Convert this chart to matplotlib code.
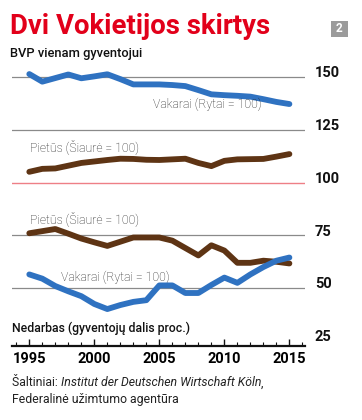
import matplotlib
matplotlib.use("Agg")
import matplotlib.pyplot as plt
from matplotlib.patches import Rectangle
from matplotlib.ticker import MultipleLocator, FixedLocator
import matplotlib.transforms as mtransforms

years = list(range(1995, 2016))
gdp_west = [151.4, 147.8, 149.5, 151.2, 149.4, 150.3, 151.3, 149.0, 146.5, 146.5, 146.5,
            146.2, 145.7, 143.8, 141.8, 141.4, 141.1, 140.7, 139.5, 138.2, 137.2]
gdp_south = [105.1, 106.5, 106.7, 108.0, 109.3, 110.0, 110.7, 111.3, 111.2, 110.8, 110.7,
             111.0, 111.3, 109.3, 107.8, 110.3, 111.0, 111.1, 111.2, 112.3, 113.5]
unemp_south = [76.0, 77.0, 78.0, 75.8, 73.5, 71.7, 70.0, 72.0, 74.0, 74.0, 74.0,
               72.5, 69.0, 65.5, 70.3, 67.8, 62.0, 62.0, 63.0, 62.5, 61.7]
unemp_west = [56.5, 54.5, 51.0, 48.5, 46.2, 42.5, 40.1, 42.0, 43.5, 44.3, 51.3,
              51.3, 47.7, 47.7, 51.5, 55.0, 52.5, 56.5, 60.0, 63.0, 64.5]
grid_levels = [150, 125, 75, 50]
red_level = 100
right_labels = ["150", "125", "100", "75", "50", "25"]
right_values = [150, 125, 100, 75, 50, 25]
major_years = [1995, 2000, 2005, 2010, 2015]

BLUE = "#2f72c1"
BROWN = "#5e3414"
RED = "#e2001a"

W, H = 362, 420
fig = plt.figure(figsize=(W / 100, H / 100), dpi=100)
ax = fig.add_axes([12 / W, 1 - 346 / H, 293 / W, (346 - 55.9) / H])
ax.set_xlim(1993.67, 2016.2)
ax.set_ylim(22.6, 160)

for g in grid_levels:
    ax.axhline(g, color="#8a8a8a", lw=0.9, zorder=1)
ax.axhline(red_level, color="#ee7f86", lw=1.0, zorder=1)

lw = 4.2
ax.plot(years, gdp_west, color=BLUE, lw=lw, solid_capstyle="round", solid_joinstyle="round", zorder=3)
ax.plot(years, gdp_south, color=BROWN, lw=lw, solid_capstyle="round", solid_joinstyle="round", zorder=3)
ax.plot(years, unemp_south, color=BROWN, lw=lw, solid_capstyle="round", solid_joinstyle="round", zorder=3)
ax.plot(years, unemp_west, color=BLUE, lw=lw, solid_capstyle="round", solid_joinstyle="round", zorder=4)

for s in ["top", "right", "left"]:
    ax.spines[s].set_visible(False)
ax.spines["bottom"].set_linewidth(1.6)
ax.spines["bottom"].set_color("#111111")
ax.set_yticks([])
ax.xaxis.set_major_locator(FixedLocator(major_years))
ax.xaxis.set_minor_locator(MultipleLocator(1))
ax.tick_params(axis="x", which="major", direction="in", length=5, width=1.0, color="#111111",
               labelsize=10.5, pad=4)
ax.tick_params(axis="x", which="minor", direction="in", length=3, width=0.8, color="#111111")
for lab in ax.get_xticklabels():
    lab.set_fontweight("bold")
    lab.set_family("Roboto")

trans = mtransforms.blended_transform_factory(ax.transAxes, ax.transData)
for lab, v in zip(right_labels, right_values):
    ax.text(1.034, v + 1.8, lab, transform=trans, ha="left", va="center",
            fontsize=10.5, fontweight="bold", family="Roboto", color="#111111", clip_on=False)

lab_kw = dict(fontsize=8.8, family="Roboto", fontweight="light", color="#222222", va="center", ha="left")
ax.text(2004.5, 137.2, "Vakarai (Rytai = 100)", **lab_kw)
ax.text(1995.05, 117.3, "Pietūs (Šiaurė = 100)", **lab_kw)
ax.text(1995.05, 83.0, "Pietūs (Šiaurė = 100)", **lab_kw)
ax.text(1997.4, 55.0, "Vakarai (Rytai = 100)", **lab_kw)

# Title and texts
fig.text(10 / W, 1 - 27 / H, "Dvi Vokietijos skirtys", color=RED, fontsize=19.8,
         fontweight="bold", family=["Liberation Sans Narrow", "Roboto"], ha="left", va="center")
fig.patches.append(Rectangle((331 / W, 1 - 37.3 / H), 17 / W, 16.6 / H, transform=fig.transFigure,
                             facecolor="#9b9b9b", edgecolor="none"))
fig.text(339.5 / W, 1 - 29 / H, "2", color="white", fontsize=8.5, fontweight="bold",
         family="Roboto", ha="center", va="center")
fig.text(10 / W, 1 - 53 / H, "BVP vienam gyventojui", fontsize=9.3, fontweight="medium",
         family="Roboto", color="#111111", ha="left", va="center")
fig.text(12 / W, 1 - 328 / H, "Nedarbas (gyventojų dalis proc.)", fontsize=8.8, fontweight="medium",
         family="Roboto", color="#111111", ha="left", va="center")

src_kw = dict(fontsize=8.8, family="Roboto", color="#222222", va="center")
t1 = fig.text(12 / W, 1 - 383 / H, "Šaltiniai: ", ha="left", **src_kw)
fig.canvas.draw()
bb = t1.get_window_extent()
x2 = bb.x1 / (W)
t2 = fig.text(x2, 1 - 383 / H, "Institut der Deutschen Wirtschaft Köln", ha="left", style="italic", **src_kw)
fig.canvas.draw()
bb2 = t2.get_window_extent()
fig.text(bb2.x1 / W, 1 - 383 / H, ",", ha="left", **src_kw)
fig.text(12 / W, 1 - 400 / H, "Federalinė užimtumo agentūra", ha="left", **src_kw)

fig.savefig("out.png", dpi=100)
